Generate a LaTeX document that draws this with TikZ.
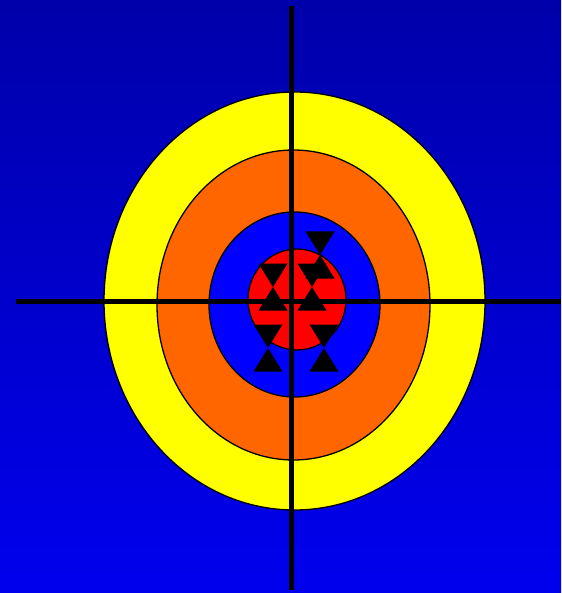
\documentclass[tikz,border=0pt]{standalone}
\usetikzlibrary{positioning}

\definecolor{skytop}{RGB}{0,0,170}
\definecolor{skybottom}{RGB}{0,0,238}
\definecolor{ringyellow}{RGB}{255,255,0}
\definecolor{ringorange}{RGB}{255,102,0}
\definecolor{ringblue}{RGB}{0,0,255}
\definecolor{ringred}{RGB}{255,0,0}

\begin{document}
\begin{tikzpicture}[
  x=1pt, y=-1pt,
  ring/.style={draw=black, line width=1.3pt},
  hair/.style={draw=black, line width=4.5pt},
  glass/.style={fill=black}
]
% background
\shade[top color=skytop, bottom color=skybottom] (0,0) rectangle (561,593);
\useasboundingbox (0,0) rectangle (561,593);

% target rings
\filldraw[ring, fill=ringyellow] (294.5,301) ellipse [x radius=190.5, y radius=209];
\filldraw[ring, fill=ringorange] (293.5,305) ellipse [x radius=136.5, y radius=155];
\filldraw[ring, fill=ringblue] (294.5,304.5) ellipse [x radius=85.5, y radius=92.5];
\filldraw[ring, fill=ringred] (297,299.5) ellipse [x radius=49, y radius=50.5];

% hits
\foreach \cx/\cy in {320/255, 312/287, 273/287, 268/348, 324/348} {
  \fill[glass] (\cx-14.5,\cy-23.5) -- (\cx+14.5,\cy-23.5) -- (\cx,\cy) -- cycle;
  \fill[glass] (\cx-14.5,\cy+23.5) -- (\cx+14.5,\cy+23.5) -- (\cx,\cy) -- cycle;
}

% crosshair
\coordinate (north) at (291.5,6);
\coordinate (south) at (291.5,590);
\coordinate (west) at (16,301.5);
\coordinate (east) at (561,301.5);
\draw[hair] (north) -- (south);
\draw[hair] (west) -- (east);
\end{tikzpicture}
\end{document}
